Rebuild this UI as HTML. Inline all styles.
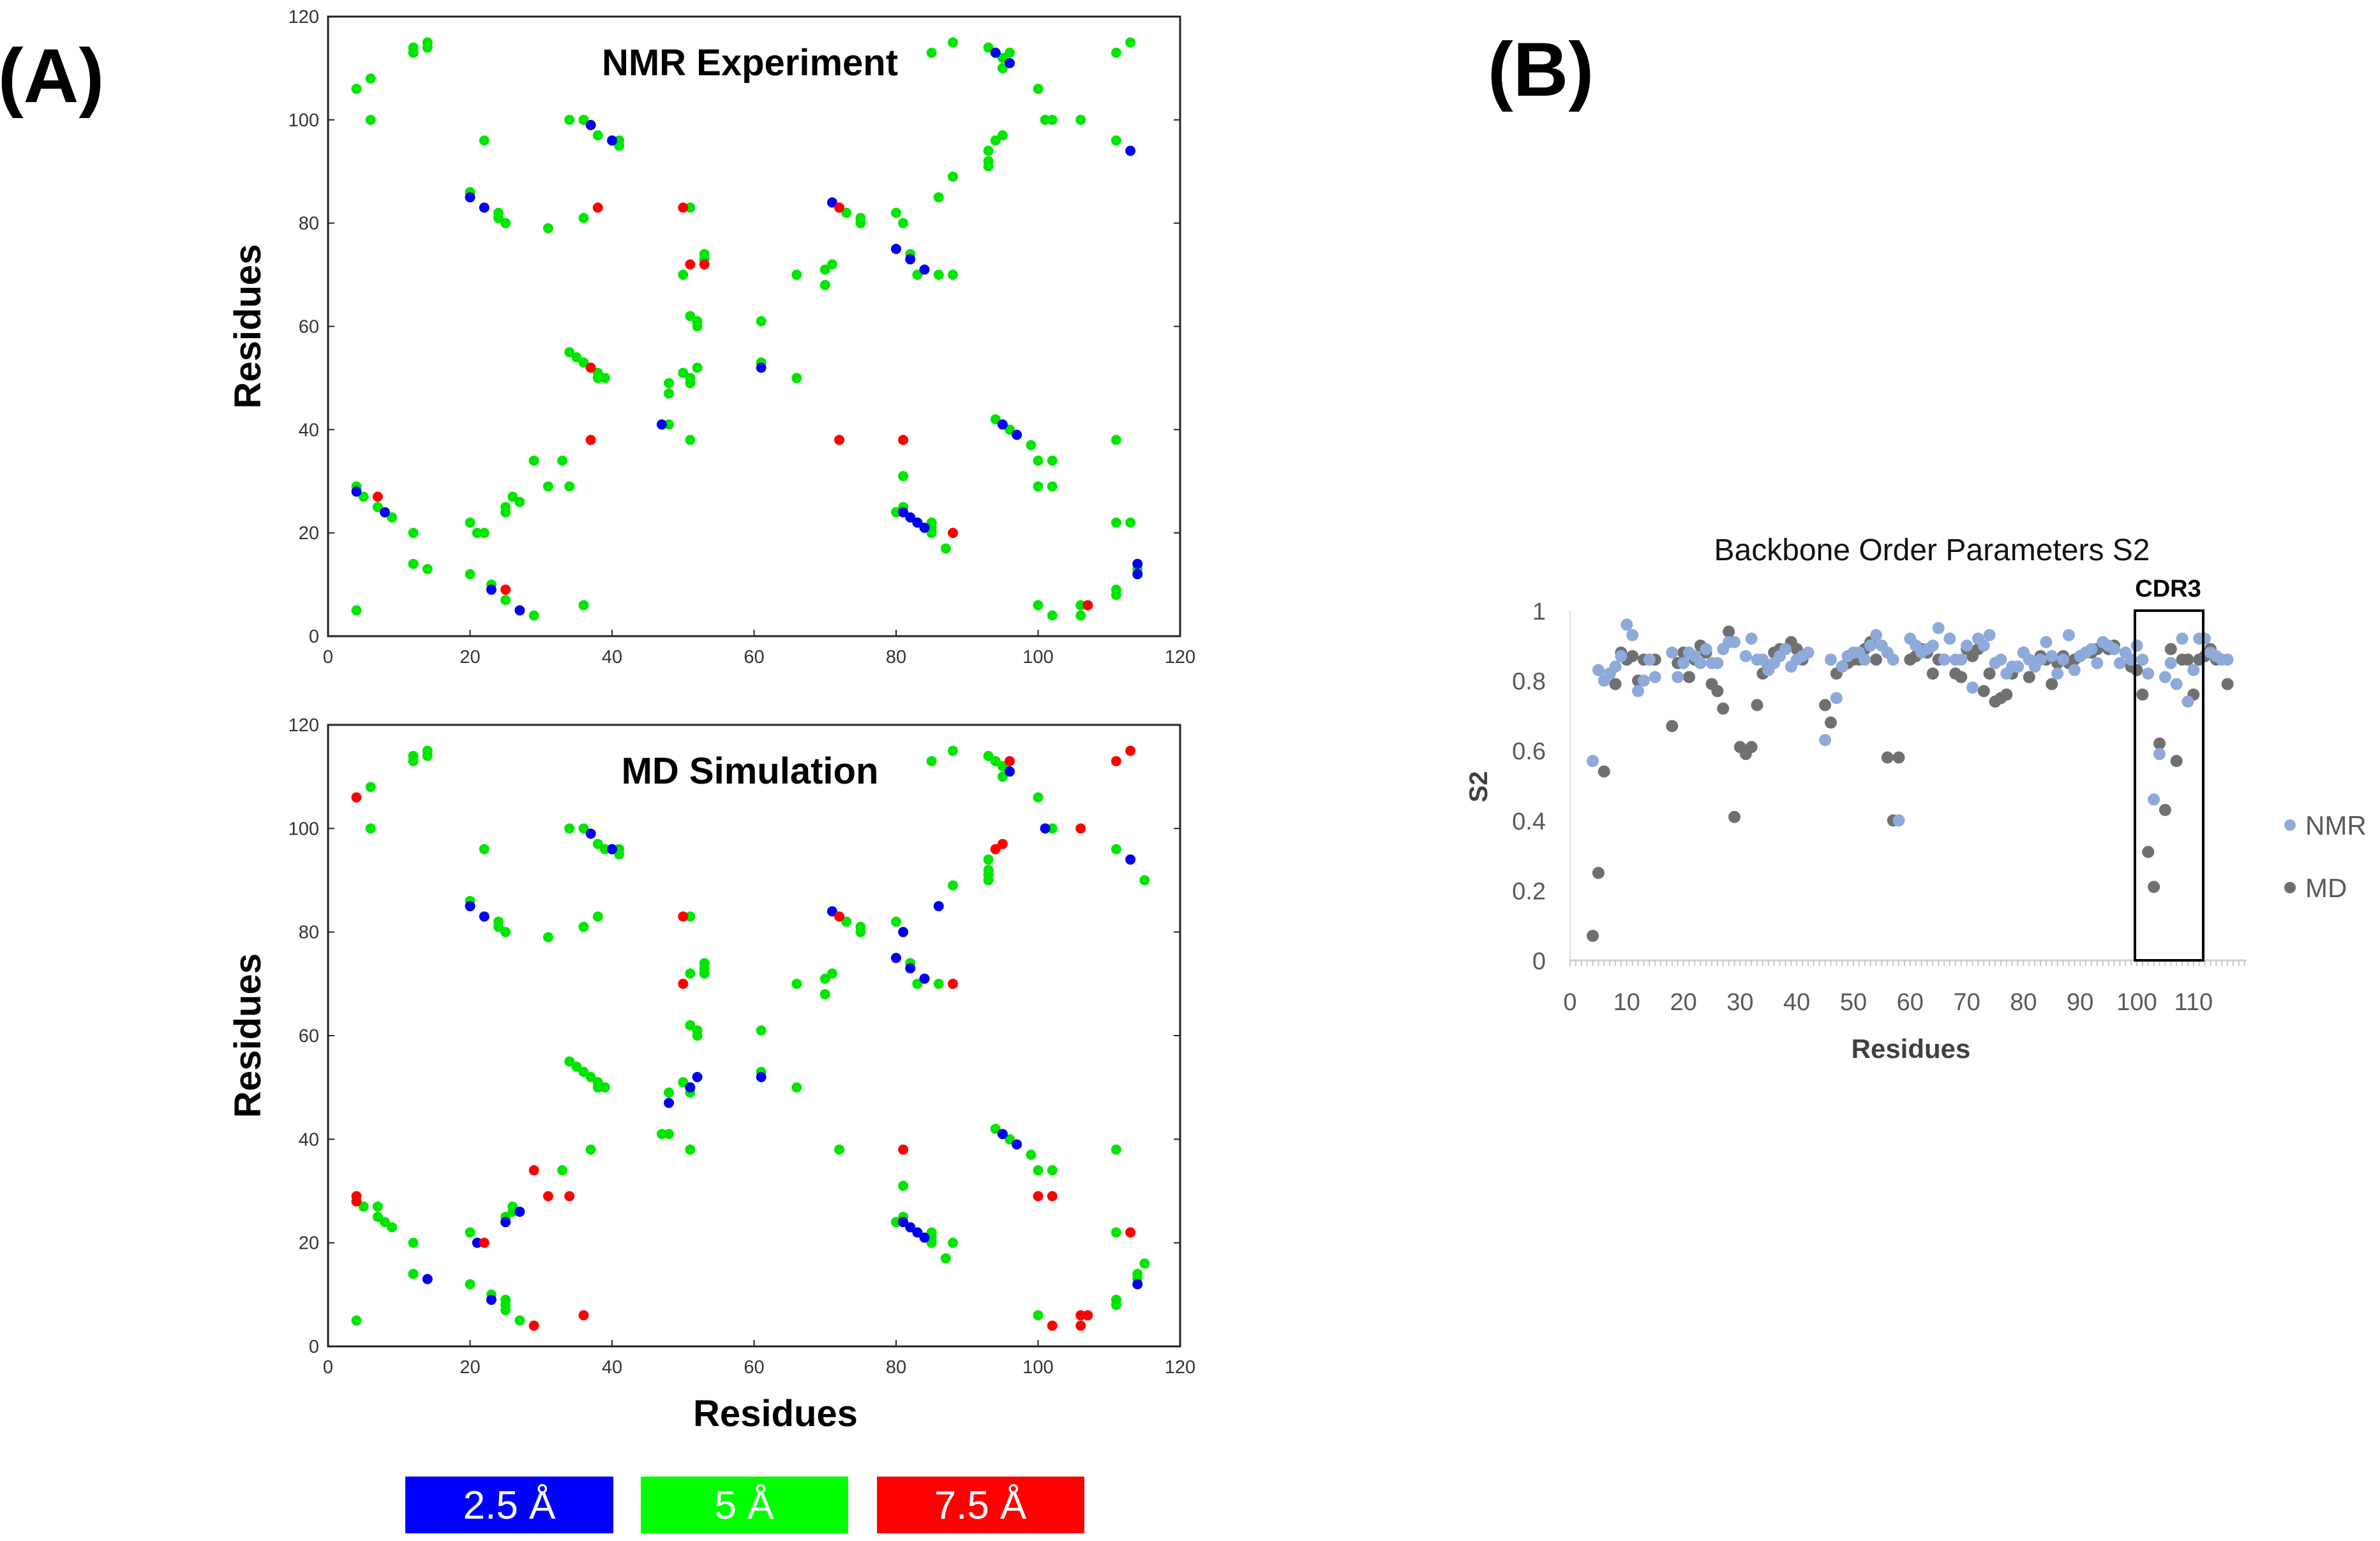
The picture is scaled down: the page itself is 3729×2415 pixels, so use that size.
<!DOCTYPE html>
<html><head><meta charset="utf-8"><style>
html,body{margin:0;padding:0;background:#fff;}
svg{display:block;font-family:"Liberation Sans",sans-serif;}
</style></head><body>
<svg id="s" width="3729" height="2415" viewBox="0 0 3729 2415" xmlns="http://www.w3.org/2000/svg">
<rect width="3729" height="2415" fill="#fff"/>
<text x="80" y="160" font-size="120" font-weight="bold" text-anchor="middle">(A)</text>
<text x="2414" y="150" font-size="120" font-weight="bold" text-anchor="middle">(B)</text>
<g id="top"></g>
<g id="bot"></g>
<g id="legA">
<rect x="635" y="2314" width="326" height="89" fill="#0000ff"/>
<text x="798" y="2380" font-size="62" fill="#fff" text-anchor="middle">2.5 Å</text>
<rect x="1004" y="2314" width="325" height="89" fill="#00ff00"/>
<text x="1166" y="2380" font-size="62" fill="#fff" text-anchor="middle">5 Å</text>
<rect x="1374" y="2314" width="325" height="89" fill="#ff0000"/>
<text x="1536" y="2380" font-size="62" fill="#fff" text-anchor="middle">7.5 Å</text>
</g>
<g id="bch"></g>
</svg>
<script>
// ---- Panel A data: [x residue, y residue]
const nmrGreen=[[4,106],[6,108],[6,100],[12,113],[12,114],[14,114],[14,115],[22,96],[20,86],[24,82],[24,81],[25,80],[31,79],[34,100],[36,100],[36,81],[38,97],[41,96],[41,95],[51,83],[50,70],[53,74],[53,73],[51,62],[52,61],[52,60],[34,55],[35,54],[36,53],[38,51],[38,50],[39,50],[48,49],[48,47],[50,51],[51,50],[51,49],[52,52],[48,41],[51,38],[61,61],[61,53],[66,50],[66,70],[70,71],[71,72],[70,68],[73,82],[75,81],[75,80],[80,82],[81,80],[82,74],[83,70],[86,70],[88,70],[86,85],[88,89],[85,113],[88,115],[93,114],[94,113],[95,112],[95,110],[96,113],[93,91],[93,92],[93,94],[94,96],[95,97],[100,106],[101,100],[102,100],[106,100],[111,96],[111,113],[113,115],[94,42],[96,40],[99,37],[100,34],[102,34],[100,29],[102,29],[111,38],[111,22],[113,22],[114,13],[111,9],[111,8],[100,6],[102,4],[106,4],[106,6],[4,29],[5,27],[7,25],[9,23],[12,20],[12,14],[14,13],[20,22],[21,20],[22,20],[20,12],[23,10],[25,7],[25,25],[25,24],[26,27],[27,26],[29,34],[31,29],[33,34],[34,29],[29,4],[36,6],[4,5],[80,24],[81,25],[81,31],[85,22],[85,21],[85,20],[87,17]];
const nmrBlue=[[37,99],[40,96],[20,85],[22,83],[47,41],[61,52],[71,84],[80,75],[82,73],[84,71],[94,113],[96,111],[113,94],[95,41],[97,39],[4,28],[8,24],[23,9],[27,5],[81,24],[82,23],[83,22],[84,21],[114,14],[114,12]];
const nmrRed=[[38,83],[50,83],[51,72],[53,72],[37,52],[37,38],[72,38],[81,38],[72,83],[88,20],[7,27],[25,9],[107,6]];
const mdGreen=[[4,5],[5,27],[6,108],[6,100],[7,27],[7,25],[8,24],[9,23],[12,113],[12,114],[14,114],[14,115],[12,20],[12,14],[20,22],[20,12],[20,86],[22,96],[24,82],[24,81],[25,80],[23,10],[25,9],[25,8],[25,7],[27,5],[25,25],[26,27],[26,26],[31,79],[33,34],[34,100],[36,100],[36,81],[38,83],[38,97],[39,96],[41,96],[41,95],[37,38],[34,55],[35,54],[36,53],[37,52],[38,51],[38,50],[39,50],[47,41],[48,41],[48,49],[50,51],[51,50],[51,49],[51,38],[51,83],[51,72],[53,74],[53,73],[53,72],[51,62],[52,61],[52,60],[61,61],[61,53],[66,50],[66,70],[70,71],[70,68],[71,72],[72,38],[73,82],[75,81],[75,80],[80,82],[82,74],[83,70],[86,70],[88,89],[85,113],[88,115],[93,114],[94,113],[95,112],[95,110],[93,94],[93,92],[93,91],[93,90],[100,106],[102,100],[111,96],[115,90],[94,42],[96,40],[99,37],[100,34],[102,34],[111,38],[111,22],[114,14],[114,13],[115,16],[111,9],[111,8],[100,6],[80,24],[81,25],[81,31],[85,22],[85,21],[85,20],[88,20],[87,17]];
const mdBlue=[[21,20],[14,13],[20,85],[22,83],[23,9],[25,24],[27,26],[37,99],[40,96],[48,47],[51,50],[52,52],[61,52],[71,84],[81,80],[80,75],[82,73],[84,71],[86,85],[96,111],[101,100],[113,94],[95,41],[97,39],[81,24],[82,23],[83,22],[84,21],[114,12]];
const mdRed=[[4,106],[4,29],[4,28],[22,20],[29,34],[31,29],[34,29],[29,4],[36,6],[50,83],[50,70],[72,83],[88,70],[81,38],[96,113],[94,96],[95,97],[106,100],[100,29],[102,29],[111,113],[113,115],[113,22],[102,4],[106,4],[106,6],[107,6]];
const mapTicks=[0,20,40,60,80,100,120];

// ---- Panel B data
const resNMR=[4,5,6,7,8,9,10,11,12,13,14,15,18,19,20,21,22,23,24,25,26,27,28,29,31,32,33,34,35,36,37,38,39,40,41,42,45,46,47,48,49,50,51,52,53,54,55,56,57,58,60,61,62,63,64,65,66,67,68,69,70,71,72,73,74,75,76,77,78,79,80,81,82,83,84,85,86,87,88,89,90,91,92,93,94,95,96,97,98,99,100,101,102,103,104,105,106,107,108,109,110,111,112,113,114,115,116];
const valNMR=[0.57,0.83,0.80,0.82,0.84,0.87,0.96,0.93,0.77,0.80,0.86,0.81,0.88,0.81,0.85,0.88,0.87,0.85,0.89,0.85,0.85,0.89,0.91,0.91,0.87,0.92,0.86,0.86,0.83,0.85,0.87,0.89,0.84,0.86,0.87,0.88,0.63,0.86,0.75,0.84,0.87,0.88,0.88,0.86,0.90,0.93,0.90,0.88,0.86,0.40,0.92,0.90,0.88,0.89,0.90,0.95,0.86,0.92,0.86,0.86,0.90,0.78,0.92,0.90,0.93,0.85,0.86,0.82,0.84,0.84,0.88,0.86,0.84,0.86,0.91,0.87,0.82,0.86,0.93,0.83,0.87,0.88,0.89,0.85,0.91,0.90,0.89,0.85,0.88,0.86,0.90,0.86,0.82,0.46,0.59,0.81,0.85,0.79,0.92,0.74,0.83,0.92,0.92,0.88,0.87,0.86,0.86];
const resMD=[4,5,6,7,8,9,10,11,12,13,14,15,18,19,20,21,22,23,24,25,26,27,28,29,30,31,32,33,34,35,36,37,38,39,40,41,45,46,47,48,49,50,51,52,53,54,56,57,58,60,61,62,63,64,65,66,68,69,70,71,72,73,74,75,76,77,78,79,80,81,83,84,85,86,87,88,89,90,91,92,93,94,95,96,99,100,101,102,103,104,105,106,107,108,109,110,111,112,113,114,115,116];
const valMD=[0.07,0.25,0.54,0.82,0.79,0.88,0.86,0.87,0.80,0.86,0.86,0.86,0.67,0.85,0.88,0.81,0.86,0.90,0.88,0.79,0.77,0.72,0.94,0.41,0.61,0.59,0.61,0.73,0.82,0.84,0.88,0.89,0.89,0.91,0.89,0.86,0.73,0.68,0.82,0.84,0.85,0.86,0.86,0.89,0.91,0.86,0.58,0.40,0.58,0.86,0.87,0.89,0.88,0.82,0.86,0.86,0.82,0.81,0.89,0.87,0.89,0.77,0.82,0.74,0.75,0.76,0.82,0.84,0.88,0.81,0.87,0.86,0.79,0.85,0.87,0.85,0.86,0.87,0.88,0.88,0.89,0.90,0.89,0.90,0.84,0.83,0.76,0.31,0.21,0.62,0.43,0.89,0.57,0.86,0.86,0.76,0.86,0.87,0.89,0.86,0.86,0.79];
const bYTicks=[0,0.2,0.4,0.6,0.8,1];
const bYLabels=["0","0.2","0.4","0.6","0.8","1"];
const bXTicks=[0,10,20,30,40,50,60,70,80,90,100,110];

const NS="http://www.w3.org/2000/svg";
function mk(parent,tag,attrs,text){const e=document.createElementNS(NS,tag);for(const k in attrs)e.setAttribute(k,attrs[k]);if(text!==undefined)e.textContent=text;parent.appendChild(e);return e;}

function contactMap(gid,top,bottom,title,green,blue,red,showXTitle){
  const g=document.getElementById(gid);
  const L=514,R=1849;
  const sx=v=>L+(R-L)*v/120, sy=v=>bottom-(bottom-top)*v/120;
  const fr=mk(g,'rect',{x:L,y:top,width:R-L,height:bottom-top,fill:'none',stroke:'#222','stroke-width':3});
  
  
  mapTicks.forEach(t=>{
    const a=mk(g,'line',{x1:sx(t),x2:sx(t),y1:bottom,y2:bottom-10,stroke:'#222','stroke-width':2});
    
    
    const b=mk(g,'line',{x1:L,x2:L+10,y1:sy(t),y2:sy(t),stroke:'#222','stroke-width':2});
    
    
    const c=mk(g,'line',{x1:R,x2:R-10,y1:sy(t),y2:sy(t),stroke:'#222','stroke-width':2});
    
    
    const tx=mk(g,'text',{x:sx(t),y:bottom+42,'font-size':29,'text-anchor':'middle',fill:'#333'},String(t));
    
    
    const ty=mk(g,'text',{x:L-14,y:sy(t)+10,'font-size':29,'text-anchor':'end',fill:'#333'},String(t));
    
    
  });
  const tt=mk(g,'text',{x:1175,y:top+92,'font-size':58,'font-weight':'bold','text-anchor':'middle'},title);
  
  
  const cy=(top+bottom)/2;
  const yt=mk(g,'text',{x:0,y:0,'font-size':58,'font-weight':'bold','text-anchor':'middle',transform:`translate(408,${cy}) rotate(-90)`},'Residues');
  
  
  if(showXTitle){
    const xt=mk(g,'text',{x:1215,y:bottom+125,'font-size':58,'font-weight':'bold','text-anchor':'middle'},'Residues');
    
    
  }
  [[green,'#00e600','contact-5'],[blue,'#0000ee','contact-2-5'],[red,'#ff0000','contact-7-5']].forEach(([arr,col,nm])=>{
    arr.forEach(p=>{
      const c=mk(g,'circle',{cx:sx(p[0]),cy:sy(p[1]),r:8,fill:col});
      
      
    });
  });
}
contactMap('top',26,997,'NMR Experiment',nmrGreen,nmrBlue,nmrRed,false);
contactMap('bot',1136,2110,'MD Simulation',mdGreen,mdBlue,mdRed,true);

(function(){
  const g=document.getElementById('bch');
  const X0=2460,Y0=1505,Y1=957,PX=8.88;
  const sx=v=>X0+v*PX, sy=v=>Y0-(Y0-Y1)*v;
  const ya=mk(g,'line',{x1:X0,x2:X0,y1:Y1,y2:Y0,stroke:'#e0e0e0','stroke-width':2});
  
  
  const xa=mk(g,'line',{x1:X0,x2:3520,y1:Y0,y2:Y0,stroke:'#d0d0d0','stroke-width':3});
  
  
  for(let i=0;i<=119;i++){
    const m=mk(g,'line',{x1:sx(i),x2:sx(i),y1:Y0,y2:Y0+9,stroke:'#c8c8c8','stroke-width':2});
    
    
  }
  bYTicks.forEach((t,i)=>{
    const tl=mk(g,'text',{x:X0-38,y:sy(t)+14,'font-size':38,'text-anchor':'end',fill:'#595959'},bYLabels[i]);
    
    
  });
  bXTicks.forEach(t=>{
    const tl=mk(g,'text',{x:sx(t),y:1583,'font-size':38,'text-anchor':'middle',fill:'#595959'},String(t));
    
    
  });
  const ti=mk(g,'text',{x:3027,y:878,'font-size':48,'text-anchor':'middle',fill:'#111'},'Backbone Order Parameters S2');
  
  
  const st=mk(g,'text',{x:0,y:0,'font-size':40,'font-weight':'bold','text-anchor':'middle',fill:'#404040',transform:'translate(2330,1233) rotate(-90)'},'S2');
  
  
  const rt=mk(g,'text',{x:2994,y:1658,'font-size':42,'font-weight':'bold','text-anchor':'middle',fill:'#404040'},'Residues');
  
  
  resMD.forEach((r,i)=>{
    const c=mk(g,'circle',{cx:sx(r),cy:sy(valMD[i]),r:9.5,fill:'#707070'});
    
    
  });
  resNMR.forEach((r,i)=>{
    const c=mk(g,'circle',{cx:sx(r),cy:sy(valNMR[i]),r:9.5,fill:'#8eaadb'});
    
    
  });
  const box=mk(g,'rect',{x:3345,y:957,width:107,height:548,fill:'none',stroke:'#000','stroke-width':4});
  
  
  const cl=mk(g,'text',{x:3397,y:935,'font-size':38,'font-weight':'bold','text-anchor':'middle'},'CDR3');
  
  
  const l1=mk(g,'circle',{cx:3588,cy:1293,r:9,fill:'#8eaadb'});
  
  
  const l1t=mk(g,'text',{x:3612,y:1308,'font-size':42,fill:'#595959'},'NMR');
  
  
  const l2=mk(g,'circle',{cx:3588,cy:1391,r:9,fill:'#707070'});
  
  
  const l2t=mk(g,'text',{x:3612,y:1406,'font-size':42,fill:'#595959'},'MD');
  
  
})();
</script>
</body></html>
